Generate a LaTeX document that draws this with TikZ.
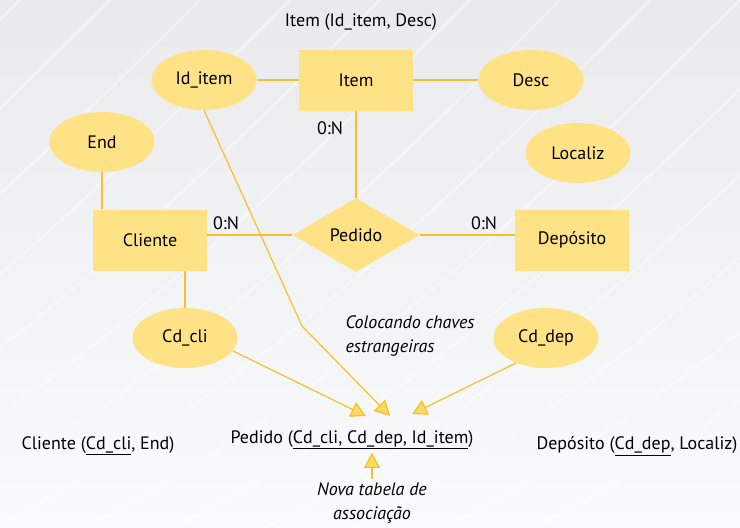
\documentclass[tikz,border=0pt]{standalone}
\usepackage{fontspec}
\setmainfont{PT Sans}
\usetikzlibrary{
    shapes.geometric,
    arrows.meta,
    positioning
}
\definecolor{erfill}{HTML}{FFE285}
\definecolor{erline}{HTML}{F7C02A}
\definecolor{tipfill}{HTML}{FFD966}
\definecolor{bgtop}{HTML}{EAEAEC}
\definecolor{bgbot}{HTML}{F9FBFD}
\tikzset{
    entity/.style={rectangle, fill=erfill, minimum width=114pt, minimum height=61pt},
    attrib/.style={ellipse, fill=erfill, minimum width=105pt, minimum height=60pt, inner sep=0pt},
    relship/.style={diamond, fill=erfill, minimum width=127pt, minimum height=74pt, inner sep=0pt},
    link/.style={draw=erline, line width=1.3pt},
    fk/.style={draw=erline, line width=1.2pt, -{Triangle[length=15pt, width=16pt, fill=tipfill]}},
    streak/.style={draw=white, line width=1.6pt, opacity=0.5},
    every node/.style={font=\fontsize{18}{22}\selectfont}
}

\begin{document}
\begin{tikzpicture}[x=1pt, y=-1pt]
                                \fill[top color=bgtop, bottom color=bgbot] (0, 0) rectangle (740, 528);
                                \useasboundingbox (0, 0) rectangle (740, 528);
                                % faint streaks of the background
                                \foreach \s in {-700, -610, ..., 500}
                                    \draw[streak] (\s, 560) .. controls (\s + 300, 420) and (\s + 520, 200) .. (\s + 760, -40);
                                \node (titem) at (361, 22) {Item (Id\_item, Desc)};
                                \node[entity] (item) at (356, 80) {Item};
                                \node[attrib] (iditem) at (204, 80) {Id\_item};
                                \node[attrib] (desc) at (531, 80) {Desc};
                                \node[attrib] (end) at (102, 142) {End};
                                \node[attrib] (localiz) at (578, 153) {Localiz};
                                \node[entity] (cliente) at (150, 240) {Cliente};
                                \node[relship] (pedido) at (356, 235) {Pedido};
                                \node[entity] (deposito) at (572, 240) {Depósito};
                                \node[attrib] (cdcli) at (185, 338) {Cd\_cli};
                                \node[attrib] (cddep) at (546, 338) {Cd\_dep};
                                \draw[link]
                                (iditem.east) -- (item.west)
                                (item.east) -- (desc.west)
                                (item.south) -- (pedido.north)
                                (end.south) -- (end.south |- cliente.north)
                                (cliente.east |- pedido) -- (pedido.west)
                                (pedido.east) -- (deposito.west |- pedido)
                                (cdcli.north |- cliente.south) -- (cdcli.north);
                                \node (cn1) at (330, 128) {0:N};
                                \node (cn2) at (226, 223) {0:N};
                                \node (cn3) at (484, 223) {0:N};
                                \node[anchor=west, align=left, font=\fontsize{18}{24}\selectfont\itshape] (tchaves) at (342, 336) {Colocando chaves\\estrangeiras};
                                \node (tcliente) at (98, 446) {Cliente (\underline{Cd\_cli}, End)};
                                \node (tpedido) at (352, 440) {Pedido (\underline{Cd\_cli, Cd\_dep, Id\_item})};
                                \node (tdeposito) at (637, 446) {Depósito (\underline{Cd\_dep}, Localiz)};
                                \node[align=center, font=\fontsize{18}{24}\selectfont\itshape] (tnova) at (372, 503) {Nova tabela de\\associação};
                                \coordinate (bend) at (302, 326);
                                \coordinate (fkcli) at (366, 416);
                                \coordinate (fkitem) at (390, 416);
                                \coordinate (fkdep) at (412, 414);
                                \draw[fk] (cdcli.-15) -- (fkcli);
                                \draw[fk] (iditem.south) -- (bend) -- (fkitem);
                                \draw[fk] (cddep.220) -- (fkdep);
                                \draw[fk] (tnova.north) -- (tnova.north |- tpedido.south);
                            \end{tikzpicture}
\end{document}
